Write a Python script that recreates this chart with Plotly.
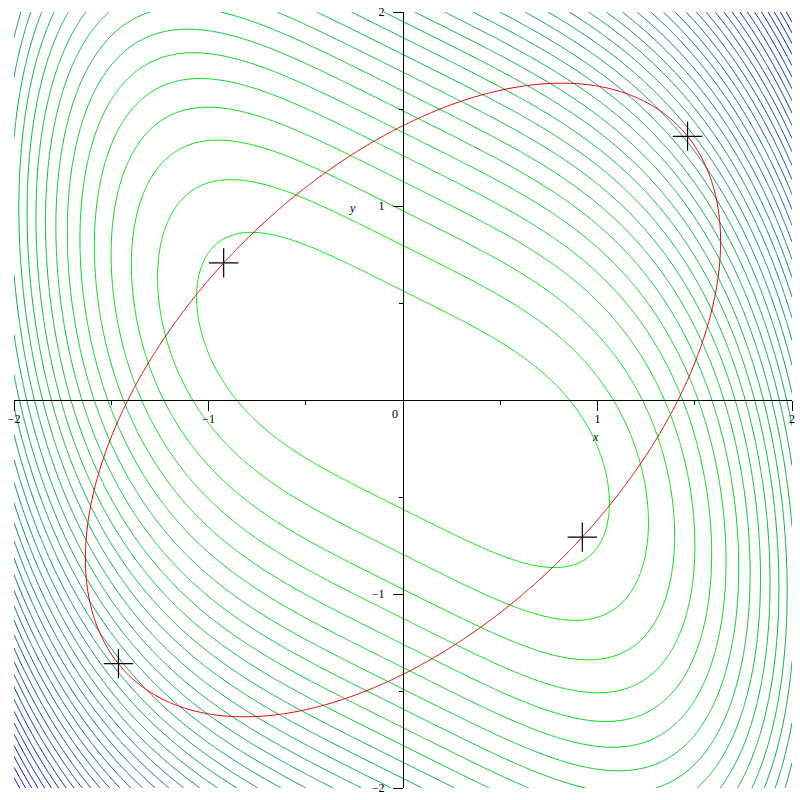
import numpy as np
import plotly.graph_objects as go

# ---- plot window ----
x_lo, x_hi = -2.0, 2.0
y_lo, y_hi = -2.0, 2.0
grid_n = 401

# ---- objective f(x,y) = x^4 + (x + 2y)^2, constraint x^2 - x*y + y^2 = 2 ----
quartic_coef = 1.0      # coefficient of x^4
lin_y_coef = 2.0        # f contains (x + 2y)^2
n_contours = 40
constraint_level = 2.0

# ---- Lagrange critical points ----
crit_x = [1.463, -0.922, 0.922, -1.463]
crit_y = [1.359, 0.707, -0.707, -1.359]

# ---- ticks ----
major_ticks = [-2, -1, 1, 2]
minor_step = 0.5

xs = np.linspace(x_lo, x_hi, grid_n)
ys = np.linspace(y_lo, y_hi, grid_n)
X, Y = np.meshgrid(xs, ys)
F = quartic_coef * X**4 + (X + lin_y_coef * Y) ** 2
G = X**2 - X * Y + Y**2

fmin, fmax = float(F.min()), float(F.max())
step = (fmax - fmin) / (n_contours + 1)
lev_start = fmin + step
lev_end = fmin + n_contours * step

fig = go.Figure()

fig.add_trace(go.Contour(
    x=xs, y=ys, z=F,
    contours=dict(start=lev_start, end=lev_end + step * 0.01, size=step, coloring="lines"),
    colorscale=[[0, "rgb(0,235,0)"], [0.5, "rgb(0,140,110)"], [1, "rgb(0,0,190)"]],
    zmin=lev_start, zmax=lev_end, zauto=False,
    line=dict(width=1, smoothing=1),
    showscale=False, hoverinfo="skip",
))

fig.add_trace(go.Contour(
    x=xs, y=ys, z=G,
    contours=dict(start=constraint_level, end=constraint_level, size=1, coloring="lines"),
    colorscale=[[0, "rgb(220,0,0)"], [1, "rgb(220,0,0)"]],
    line=dict(width=1, smoothing=1),
    showscale=False, hoverinfo="skip",
))

fig.add_trace(go.Scatter(
    x=crit_x, y=crit_y, mode="markers",
    marker=dict(symbol="cross-thin", size=21, line=dict(width=1.2, color="black")),
    hoverinfo="skip", showlegend=False,
))

tick_font = dict(family="Liberation Serif, Times New Roman, serif", size=12, color="black")
axis_common = dict(
    showgrid=False, zeroline=False, showline=True, linecolor="black", linewidth=1,
    anchor="free", position=0.5, automargin=False, ticklabeloverflow="allow",
    ticks="outside", ticklen=10, tickwidth=1, tickcolor="black",
    tickvals=major_ticks, tickfont=tick_font,
    minor=dict(ticks="outside", ticklen=4, dtick=minor_step, tick0=0, tickcolor="black", showgrid=False),
)

fig.update_layout(
    width=800, height=800,
    margin=dict(l=14, r=8, t=12, b=12, autoexpand=False),
    paper_bgcolor="white", plot_bgcolor="white",
    showlegend=False,
    xaxis=dict(range=[x_lo, x_hi], ticklabelstandoff=-2, **axis_common),
    yaxis=dict(range=[y_lo, y_hi], ticklabelstandoff=6, **axis_common),
    annotations=[
        dict(x=-0.04, y=-0.072, xref="x", yref="y", text="0", showarrow=False,
             font=tick_font),
        dict(x=0.988, y=-0.19, xref="x", yref="y", text="<i>x</i>", showarrow=False,
             font=dict(family="Liberation Serif, serif", size=12, color="black")),
        dict(x=-0.258, y=0.99, xref="x", yref="y", text="<i>y</i>", showarrow=False,
             font=dict(family="Liberation Serif, serif", size=12, color="black")),
    ],
)

fig.write_html(
    "out.html",
    config={"displayModeBar": False, "staticPlot": True},
    post_script="document.body.style.margin='0px'; document.body.style.overflow='hidden';",
)
